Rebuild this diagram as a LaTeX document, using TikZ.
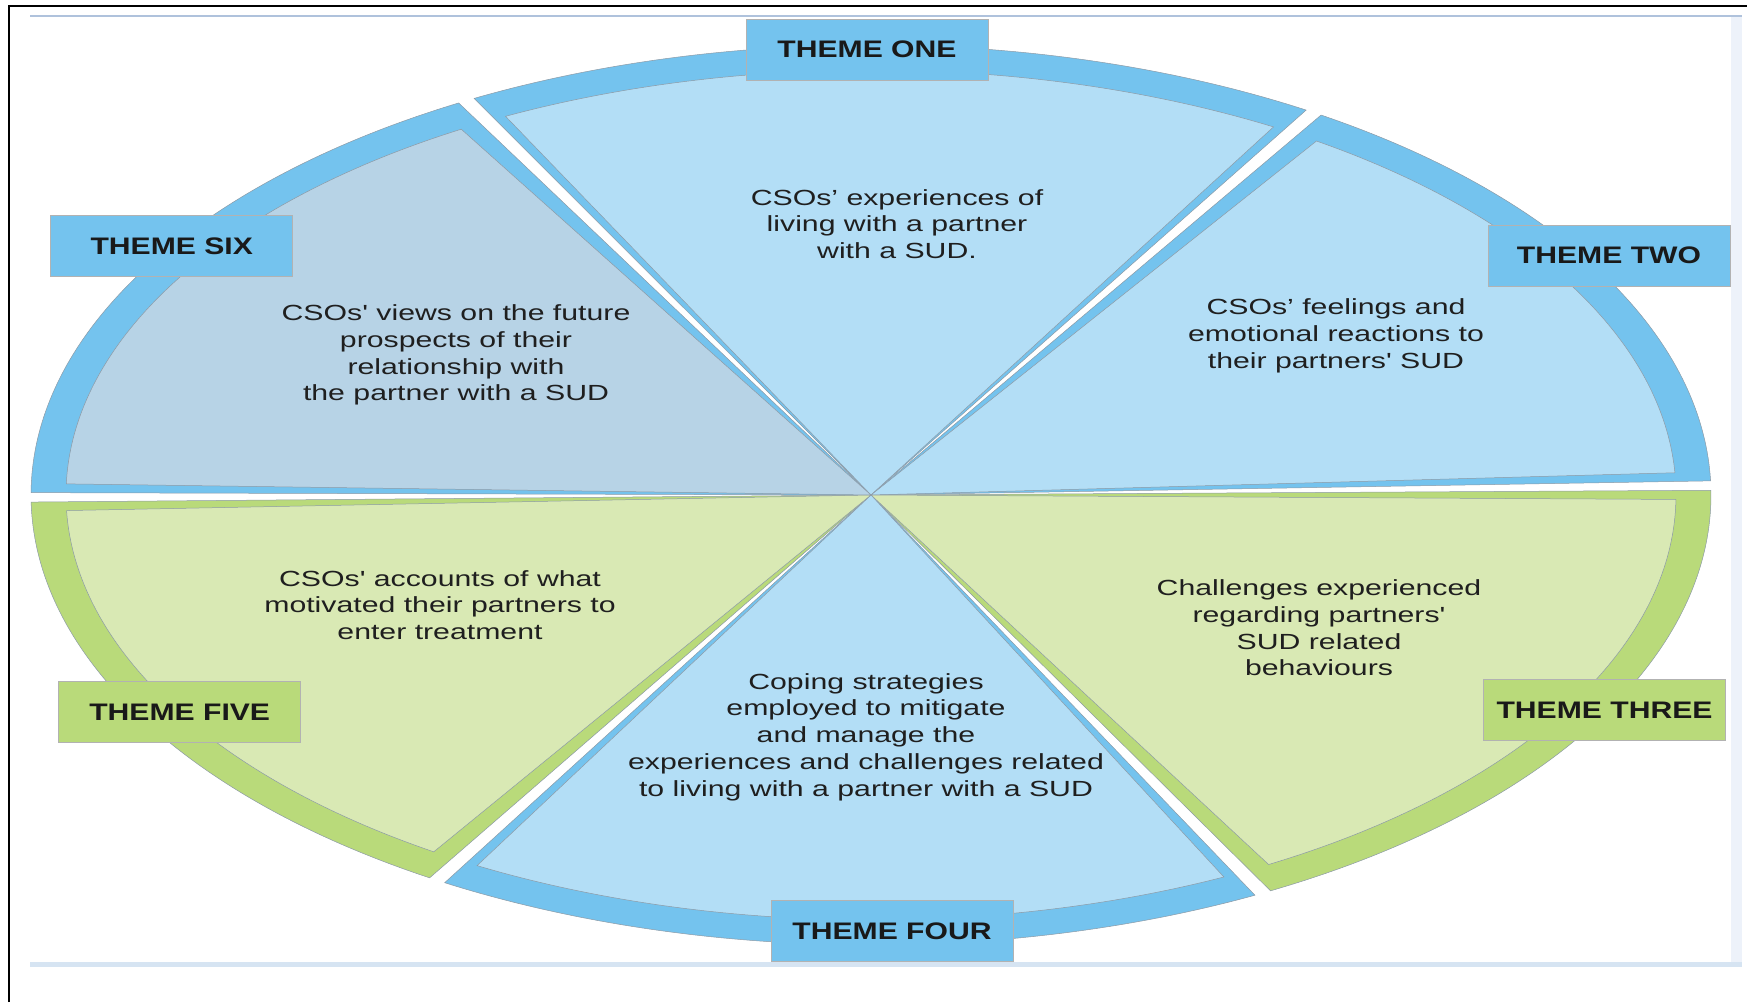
\documentclass[tikz,border=0pt]{standalone}
\usepackage{fontspec}
\newfontfamily\bodyfont{Liberation Sans}[FakeStretch=1.38,Ligatures=TeXOff]
\newfontfamily\labelfont{Liberation Sans}[FakeStretch=1.26,Ligatures=TeXOff]
\definecolor{ringblue}{HTML}{74C3EE}
\definecolor{wedgeblue}{HTML}{B3DEF6}
\definecolor{wedgegrey}{HTML}{B7D3E6}
\definecolor{ringgreen}{HTML}{B9DA7A}
\definecolor{wedgegreen}{HTML}{D9E9B4}
\definecolor{edgegrey}{HTML}{8C9AA6}
\definecolor{lineblue}{HTML}{AFC2DC}
\definecolor{frameband}{HTML}{D6E4F2}
\definecolor{sideband}{HTML}{EDF2FA}

\begin{document}
\begin{tikzpicture}[x=1bp,y=1bp,
	ring/.style={draw=edgegrey,line width=0.5bp},
	wedge/.style={draw=edgegrey,line width=0.5bp},
	theme/.style={fill=#1,draw=black!30,line width=0.8bp,minimum width=242bp,minimum height=61bp,inner sep=0pt,
		font=\labelfont\bfseries\fontsize{24}{28}\selectfont,text=black!90},
	body/.style={align=center,inner sep=0pt,font=\bodyfont\fontsize{22}{26.8}\selectfont,text=black!88}]
\useasboundingbox (0,0) rectangle (1747,1002);
\fill[sideband] (1731,40) rectangle (1742,986);
\fill[frameband] (30,35) rectangle (1742,40);
\draw[lineblue,line width=1.5bp] (30,986)--(1742,986);
\draw[line width=2bp] (9,0)--(9,996)--(1747,996);

\begin{scope}[shift={(871,507)}]
\filldraw[ringblue,ring] (0,0)--(58.8:840 and 450) arc[start angle=58.8,end angle=118.2,x radius=840,y radius=450]--cycle;
\filldraw[ringblue,ring] (0,0)--(1.8:840 and 450) arc[start angle=1.8,end angle=57.6,x radius=840,y radius=450]--cycle;
\filldraw[ringgreen,ring] (0,0)--(-61.6:840 and 450) arc[start angle=-61.6,end angle=0.6,x radius=840,y radius=450]--cycle;
\filldraw[ringblue,ring] (0,0)--(239.5:840 and 450) arc[start angle=239.5,end angle=297.2,x radius=840,y radius=450]--cycle;
\filldraw[ringgreen,ring] (0,0)--(180.9:840 and 450) arc[start angle=180.9,end angle=238.3,x radius=840,y radius=450]--cycle;
\filldraw[ringblue,ring] (0,0)--(119.4:840 and 450) arc[start angle=119.4,end angle=179.7,x radius=840,y radius=450]--cycle;

\filldraw[wedgeblue,wedge] (0,0)--(60:805 and 425) arc[start angle=60,end angle=117,x radius=805,y radius=425]--cycle;
\filldraw[wedgeblue,wedge] (0,0)--(3:805 and 425) arc[start angle=3,end angle=56.4,x radius=805,y radius=425]--cycle;
\filldraw[wedgegreen,wedge] (0,0)--(-60.4:805 and 425) arc[start angle=-60.4,end angle=-0.6,x radius=805,y radius=425]--cycle;
\filldraw[wedgeblue,wedge] (0,0)--(240.7:805 and 425) arc[start angle=240.7,end angle=296,x radius=805,y radius=425]--cycle;
\filldraw[wedgegreen,wedge] (0,0)--(182.1:805 and 425) arc[start angle=182.1,end angle=237.1,x radius=805,y radius=425]--cycle;
\filldraw[wedgegrey,wedge] (0,0)--(120.6:805 and 425) arc[start angle=120.6,end angle=178.5,x radius=805,y radius=425]--cycle;
	\end{scope}

\node[body] (txtOne) at (897,778) {CSOs’ experiences of\\living with a partner\\with a SUD.};
\node[body] (txtTwo) at (1336,666) {CSOs’ feelings and\\emotional reactions to\\their partners' SUD};
\node[body] (txtThree) at (1319,374) {Challenges experienced\\regarding partners'\\SUD related\\behaviours};
\node[body] (txtFour) at (866,265) {Coping strategies\\employed to mitigate\\and manage the\\experiences and challenges related\\to living with a partner with a SUD};
\node[body] (txtFive) at (440,397) {CSOs' accounts of what\\motivated their partners to\\enter treatment};
\node[body] (txtSix) at (456,647) {CSOs' views on the future\\prospects of their\\relationship with\\the partner with a SUD};

\node[theme=ringblue] (themeOne) at (867,952.5) {THEME ONE};
\node[theme=ringblue] (themeTwo) at (1609,746.5) {THEME TWO};
\node[theme=ringgreen] (themeThree) at (1604.5,292) {THEME THREE};
\node[theme=ringblue] (themeFour) at (892,71) {THEME FOUR};
\node[theme=ringgreen] (themeFive) at (179.7,290) {THEME FIVE};
\node[theme=ringblue] (themeSix) at (171.7,756) {THEME SIX};
\end{tikzpicture}
\end{document}
